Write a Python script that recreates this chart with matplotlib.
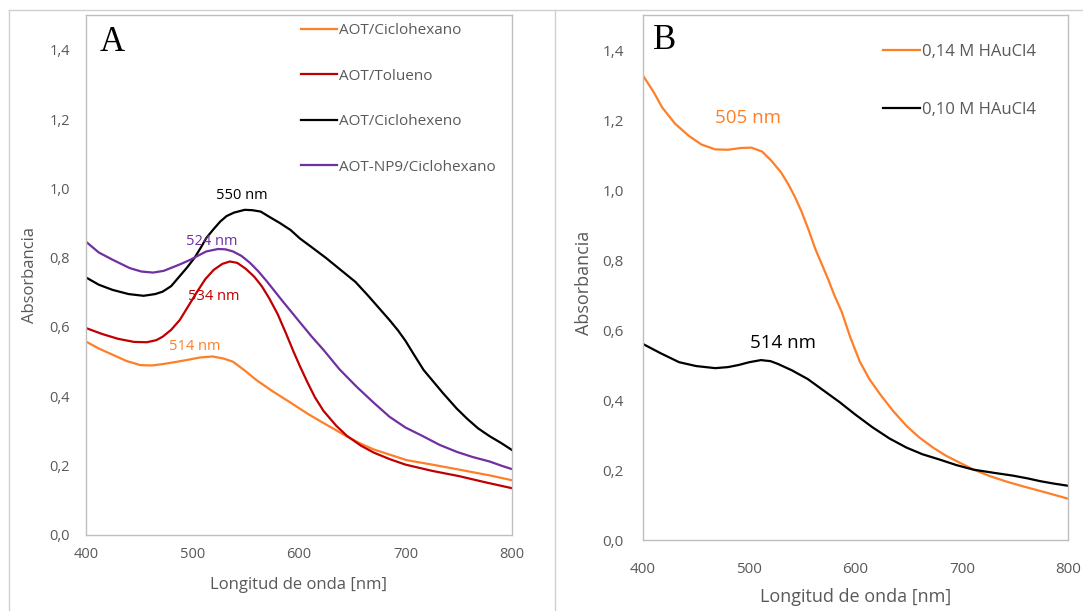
import matplotlib
matplotlib.use("Agg")
import matplotlib.pyplot as plt
from matplotlib.lines import Line2D
from matplotlib.ticker import FuncFormatter, MultipleLocator

# --- panel A data (wavelength nm, absorbance) ---
ciclohexano_x = [400, 412, 425, 438, 451, 462, 472, 484, 495, 507, 519, 529, 538, 548, 560, 575, 592, 608, 623, 635,
                 645, 657, 670, 685, 701, 725, 748, 765, 779, 800]
ciclohexano_y = [0.558, 0.538, 0.520, 0.502, 0.490, 0.489, 0.493, 0.499, 0.505, 0.512, 0.515, 0.509, 0.500, 0.477,
                 0.447, 0.415, 0.382, 0.350, 0.323, 0.302, 0.284, 0.265, 0.247, 0.232, 0.216, 0.203, 0.190, 0.180,
                 0.172, 0.158]

tolueno_x = [400, 415, 430, 445, 457, 466, 472, 480, 488, 496, 504, 512, 520, 528, 535, 542, 550, 558, 565, 572, 580,
             588, 595, 601, 608, 615, 623, 635, 645, 658, 670, 685, 700, 725, 750, 775, 800]
tolueno_y = [0.597, 0.580, 0.566, 0.557, 0.556, 0.562, 0.572, 0.592, 0.620, 0.660, 0.700, 0.738, 0.765, 0.782, 0.789,
             0.785, 0.768, 0.745, 0.718, 0.683, 0.637, 0.580, 0.528, 0.486, 0.440, 0.397, 0.358, 0.315, 0.286, 0.258,
             0.238, 0.219, 0.203, 0.185, 0.170, 0.152, 0.135]

ciclohexeno_x = [400, 412, 425, 440, 454, 465, 472, 480, 485, 490, 495, 502, 508, 513, 520, 526, 532, 539, 549, 556,
                 564, 572, 582, 592, 601, 612, 625, 641, 653, 665, 675, 685, 693, 700, 708, 717, 726, 735, 748, 758,
                 768, 779, 790, 800]
ciclohexeno_y = [0.743, 0.722, 0.707, 0.695, 0.690, 0.695, 0.702, 0.718, 0.736, 0.754, 0.772, 0.800, 0.830, 0.857,
                 0.883, 0.904, 0.920, 0.930, 0.938, 0.937, 0.933, 0.918, 0.900, 0.880, 0.855, 0.830, 0.800, 0.760,
                 0.730, 0.690, 0.655, 0.620, 0.590, 0.560, 0.520, 0.476, 0.443, 0.410, 0.365, 0.335, 0.308, 0.285,
                 0.265, 0.245]

np9_x = [400, 412, 425, 441, 452, 463, 473, 482, 490, 498, 506, 513, 524, 531, 538, 546, 554, 562, 570, 578, 585, 593,
         601, 612, 623, 638, 654, 670, 685, 700, 717, 732, 748, 763, 779, 790, 800]
np9_y = [0.846, 0.815, 0.794, 0.770, 0.760, 0.757, 0.762, 0.773, 0.783, 0.794, 0.807, 0.818, 0.825, 0.824, 0.818,
         0.805, 0.785, 0.760, 0.731, 0.700, 0.673, 0.643, 0.613, 0.572, 0.534, 0.478, 0.428, 0.382, 0.341, 0.310,
         0.284, 0.260, 0.240, 0.225, 0.212, 0.200, 0.190]

# --- panel B data ---
hau14_x = [400, 410, 418, 430, 443, 455, 468, 480, 492, 502, 512, 521, 530, 537, 543, 549, 556, 562, 568, 574, 580,
           587, 595, 604, 613, 623, 635, 648, 660, 673, 685, 698, 712, 727, 742, 758, 780, 800]
hau14_y = [1.327, 1.280, 1.236, 1.190, 1.155, 1.130, 1.116, 1.115, 1.120, 1.121, 1.110, 1.083, 1.050, 1.015, 0.980,
           0.940, 0.885, 0.833, 0.790, 0.747, 0.700, 0.652, 0.580, 0.510, 0.460, 0.417, 0.370, 0.326, 0.293, 0.264,
           0.241, 0.221, 0.200, 0.182, 0.167, 0.153, 0.135, 0.118]

hau10_x = [400, 417, 434, 450, 468, 480, 490, 500, 511, 520, 527, 540, 555, 570, 585, 600, 616, 632, 648, 663, 679,
           695, 711, 730, 748, 762, 774, 787, 800]
hau10_y = [0.560, 0.533, 0.508, 0.497, 0.491, 0.494, 0.500, 0.508, 0.514, 0.511, 0.503, 0.485, 0.460, 0.427, 0.394,
           0.358, 0.322, 0.290, 0.264, 0.245, 0.230, 0.214, 0.201, 0.192, 0.184, 0.176, 0.168, 0.161, 0.155]

ORANGE = "#FF7F27"
RED = "#C00000"
PURPLE = "#7030A0"
BLACK = "#000000"
GRAY = "#595959"
FRAME = "#BFBFBF"

plt.rcParams["font.family"] = ["Open Sans", "DejaVu Sans"]

fig = plt.figure(figsize=(10.83, 6.11), dpi=100)
W, H = 1083.0, 611.0


def axes_px(x0, x1, ytop, ybot):
    return fig.add_axes([x0 / W, 1 - ybot / H, (x1 - x0) / W, (ybot - ytop) / H])


comma = FuncFormatter(lambda v, p: ("%.1f" % v).replace(".", ","))


def style(ax, tsize, ypad, xpad):
    ax.set_xlim(400, 800)
    ax.set_ylim(0, 1.5)
    ax.set_yticks([0, 0.2, 0.4, 0.6, 0.8, 1.0, 1.2, 1.4])
    ax.xaxis.set_major_locator(MultipleLocator(100))
    ax.yaxis.set_major_formatter(comma)
    for s in ax.spines.values():
        s.set_color(FRAME)
        s.set_linewidth(1.0)
    ax.tick_params(axis="y", length=0, pad=ypad, labelsize=tsize, labelcolor=GRAY)
    ax.tick_params(axis="x", length=0, pad=xpad, labelsize=tsize, labelcolor=GRAY)


# panel A
ax1 = axes_px(86, 512, 15, 535)
style(ax1, 10.5, 11.5, 9)
ax1.plot(ciclohexano_x, ciclohexano_y, color=ORANGE, lw=1.6, label="AOT/Ciclohexano")
ax1.plot(tolueno_x, tolueno_y, color=RED, lw=1.6, label="AOT/Tolueno")
ax1.plot(ciclohexeno_x, ciclohexeno_y, color=BLACK, lw=1.6, label="AOT/Ciclohexeno")
ax1.plot(np9_x, np9_y, color=PURPLE, lw=1.6, label="AOT-NP9/Ciclohexano")
ax1.set_xlabel("Longitud de onda [nm]", fontsize=12, color=GRAY)
ax1.set_ylabel("Absorbancia", fontsize=12, color=GRAY)
ax1.xaxis.set_label_coords(0.5, -0.081)
ax1.yaxis.set_label_coords(-0.113, 0.5)
ax1.legend(loc="upper left", bbox_to_anchor=(0.505, 0.984), frameon=False, fontsize=11,
           handlelength=2.35, handletextpad=0.15, labelspacing=1.99, borderaxespad=0, borderpad=0,
           labelcolor=GRAY)
ax1.text(0.032, 0.948, "A", transform=ax1.transAxes, fontsize=25, family="Liberation Serif",
         ha="left", va="center", color=BLACK)
ax1.text(546, 0.978, "550 nm", color=BLACK, fontsize=10.5, ha="center", va="center")
ax1.text(518, 0.848, "524 nm", color=PURPLE, fontsize=10.5, ha="center", va="center")
ax1.text(520, 0.687, "534 nm", color=RED, fontsize=10.5, ha="center", va="center")
ax1.text(502, 0.545, "514 nm", color=ORANGE, fontsize=10.5, ha="center", va="center")

# panel B
ax2 = axes_px(643, 1068, 15, 540)
style(ax2, 11, 13.7, 16)
ax2.plot(hau14_x, hau14_y, color=ORANGE, lw=1.6, label="0,14 M HAuCl4")
ax2.plot(hau10_x, hau10_y, color=BLACK, lw=1.6, label="0,10 M HAuCl4")
ax2.set_xlabel("Longitud de onda [nm]", fontsize=13, color=GRAY)
ax2.set_ylabel("Absorbancia", fontsize=13, color=GRAY)
ax2.xaxis.set_label_coords(0.5, -0.092)
ax2.yaxis.set_label_coords(-0.117, 0.49)
ax2.legend(loc="upper left", bbox_to_anchor=(0.565, 0.945), frameon=False, fontsize=12,
           handlelength=2.2, handletextpad=0.15, labelspacing=2.53, borderaxespad=0, borderpad=0,
           labelcolor=GRAY)
ax2.text(0.0235, 0.952, "B", transform=ax2.transAxes, fontsize=25, family="Liberation Serif",
         ha="left", va="center", color=BLACK)
ax2.text(499, 1.207, "505 nm", color=ORANGE, fontsize=13.5, ha="center", va="center")
ax2.text(532, 0.564, "514 nm", color=BLACK, fontsize=13.5, ha="center", va="center")

# outer chart frames
fc = "#D0D0D0"
fig.add_artist(Line2D([9 / W, 9 / W], [0, 1 - 10 / H], color=fc, lw=1.0))
fig.add_artist(Line2D([9 / W, 1], [1 - 10 / H, 1 - 10 / H], color=fc, lw=1.0))
fig.add_artist(Line2D([555 / W, 555 / W], [0, 1 - 10 / H], color=fc, lw=1.0))

fig.savefig("out.png", dpi=100)
